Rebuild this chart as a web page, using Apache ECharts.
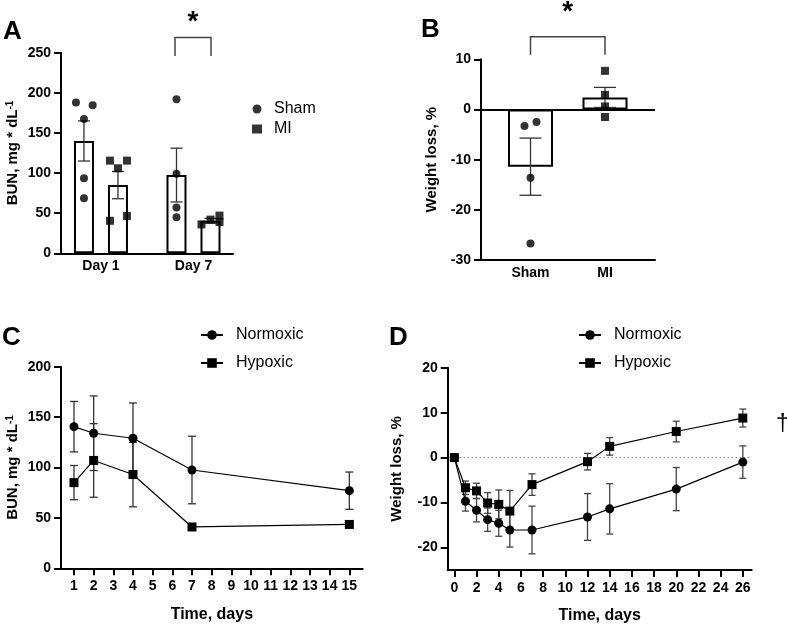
<!DOCTYPE html>
<html><head><meta charset="utf-8">
<script src="https://cdn.jsdelivr.net/npm/echarts@6/dist/echarts.min.js"></script>
<style>html,body{margin:0;padding:0;background:#fff}#c{width:787px;height:627px}</style>
</head><body><div id="c"></div>
<script>
// ---------- Panel A: BUN by group ----------
const bunGroups = ['Day 1', 'Day 7'];
const shamBunMean = [140, 97.5];
const shamBunSem = [25, 33.5];
const miBunMean = [85, 40.5];
const miBunSem = [17, 3];
const shamBunDay1 = [188, 184.5, 167.5, 93.5, 68.5];
const shamBunDay7 = [192, 99, 57, 45];
const miBunDay1 = [115.5, 115.5, 106, 40.5, 46.5];
const miBunDay7 = [36, 42, 47, 39];
const bunTicks = [0, 50, 100, 150, 200, 250];
// ---------- Panel B: weight loss by group ----------
const wlGroups = ['Sham', 'MI'];
const wlMean = [-11.4, 2.4];
const wlSem = [5.7, 2.0];
const shamWl = [-3.3, -2.5, -13.6, -26.7];
const miWl = [7.7, 2.9, 0.6, -1.5];
// ---------- Panel C: BUN over time ----------
const daysC = [1, 2, 4, 7, 15];
const normoxicBun = [140.5, 134, 129, 97.5, 77];
const normoxicBunSem = [25, 37, 35, 33.5, 18.5];
const hypoxicBun = [85, 107, 93, 41, 43.5];
const hypoxicBunSem = [17, 36.5, 32, 2, 2];
const daysCTicks = [1,2,3,4,5,6,7,8,9,10,11,12,13,14,15];
// ---------- Panel D: weight loss over time ----------
const daysD = [0, 1, 2, 3, 4, 5, 7, 12, 14, 20, 26];
const normoxicWt = [0, -9.7, -11.7, -13.8, -14.6, -16.1, -16.1, -13.2, -11.4, -7.0, -1.0];
const normoxicWtSem = [0, 2.2, 2.6, 2.6, 2.9, 3.8, 5.3, 5.2, 5.6, 4.8, 3.6];
const hypoxicWt = [0, -6.7, -7.4, -10.1, -10.4, -11.9, -6.0, -0.9, 2.5, 5.8, 8.8];
const hypoxicWtSem = [0, 1.5, 1.7, 2.3, 3.2, 4.6, 2.4, 1.85, 1.95, 2.3, 2.0];
const daysDTicks = [0,2,4,6,8,10,12,14,16,18,20,22,24,26];
const wtTicksD = [-20, -10, 0, 10, 20];

// ---------- layout / style constants ----------
const FONT = "'Liberation Sans', Arial, Helvetica, sans-serif";
const GROUP_OFF_A = 17;             // px offset of each bar from group centre
const JIT = {                        // px horizontal jitter of dots
  shamD1: [-8, 8.7, 0, 0, 0], miD1: [-8, 9, 0, -8, 9],
  shamD7: [0, 0, 0, 0], miD7: [-9, 0, 9, 9],
  shamB: [-6, 6, 0, 0], miB: [0, 0, 0, 0]
};

const chart = echarts.init(document.getElementById('c'));

function axisBase(extra) {
  return Object.assign({
    axisLine: { onZero: false, lineStyle: { color: '#000', width: 2 } },
    axisTick: { show: true, length: 7, lineStyle: { color: '#000', width: 2 } },
    axisLabel: { color: '#000', fontFamily: FONT, fontWeight: 'bold', fontSize: 14 },
    splitLine: { show: false },
    nameTextStyle: { color: '#000', fontFamily: FONT, fontWeight: 'bold', fontSize: 15 }
  }, extra);
}

function errRender(capHalf, color, pxOff) {
  return function (params, api) {
    const x = api.value(0), lo = api.value(1), hi = api.value(2);
    const off = pxOff ? api.value(3) : 0;
    const p1 = api.coord([x, hi]), p2 = api.coord([x, lo]);
    const cx = p1[0] + off;
    const style = { stroke: color, lineWidth: 1.3 };
    return { type: 'group', children: [
      { type: 'line', shape: { x1: cx, y1: p1[1], x2: cx, y2: p2[1] }, style },
      { type: 'line', shape: { x1: cx - capHalf, y1: p1[1], x2: cx + capHalf, y2: p1[1] }, style },
      { type: 'line', shape: { x1: cx - capHalf, y1: p2[1], x2: cx + capHalf, y2: p2[1] }, style }
    ]};
  };
}

function dots(vals, cat, groupOff, jit) {
  return vals.map((v, i) => ({ value: [cat, v], symbolOffset: [groupOff + jit[i], 0] }));
}

const series = [];
// ---- A bars
series.push({ type: 'bar', name: 'Sham bar', xAxisIndex: 0, yAxisIndex: 0, barWidth: 20, barGap: '70%',
  data: shamBunMean.map((v, i) => [i + 1, v]),
  itemStyle: { color: '#fff', borderColor: '#000', borderWidth: 2 }, z: 2 });
series.push({ type: 'bar', name: 'MI bar', xAxisIndex: 0, yAxisIndex: 0, barWidth: 20, barGap: '70%',
  data: miBunMean.map((v, i) => [i + 1, v]),
  itemStyle: { color: '#fff', borderColor: '#000', borderWidth: 2 }, z: 2 });
series.push({ type: 'custom', name: 'A err', xAxisIndex: 0, yAxisIndex: 0, z: 3,
  renderItem: errRender(6, '#333', true), encode: { x: 0, y: [1, 2] },
  data: [
    ...shamBunMean.map((m, i) => [i + 1, m - shamBunSem[i], m + shamBunSem[i], -GROUP_OFF_A]),
    ...miBunMean.map((m, i) => [i + 1, m - miBunSem[i], m + miBunSem[i], GROUP_OFF_A])
  ] });
series.push({ type: 'scatter', name: 'Sham', xAxisIndex: 0, yAxisIndex: 0, symbol: 'circle', symbolSize: 8, z: 4,
  itemStyle: { color: '#000' },
  data: [...dots(shamBunDay1, 1, -GROUP_OFF_A, JIT.shamD1), ...dots(shamBunDay7, 2, -GROUP_OFF_A, JIT.shamD7)] });
series.push({ type: 'scatter', name: 'MI', xAxisIndex: 0, yAxisIndex: 0, symbol: 'rect', symbolSize: 8, z: 4,
  itemStyle: { color: '#000' },
  data: [...dots(miBunDay1, 1, GROUP_OFF_A, JIT.miD1), ...dots(miBunDay7, 2, GROUP_OFF_A, JIT.miD7)] });

// ---- B bars
series.push({ type: 'bar', name: 'WL bar', xAxisIndex: 1, yAxisIndex: 1, barWidth: 45,
  data: wlMean.map((v, i) => [i + 1, v]),
  itemStyle: { color: '#fff', borderColor: '#000', borderWidth: 2 }, z: 2,
  markLine: { silent: true, symbol: 'none', label: { show: false },
    lineStyle: { color: '#000', width: 2, type: 'solid' }, data: [{ yAxis: 0 }] } });
series.push({ type: 'custom', name: 'B err', xAxisIndex: 1, yAxisIndex: 1, z: 3,
  renderItem: errRender(11, '#333', false), encode: { x: 0, y: [1, 2] },
  data: wlMean.map((m, i) => [i + 1, m - wlSem[i], m + wlSem[i]]) });
series.push({ type: 'scatter', name: 'Sham B', xAxisIndex: 1, yAxisIndex: 1, symbol: 'circle', symbolSize: 8, z: 4,
  itemStyle: { color: '#000' }, data: dots(shamWl, 1, 0, JIT.shamB) });
series.push({ type: 'scatter', name: 'MI B', xAxisIndex: 1, yAxisIndex: 1, symbol: 'rect', symbolSize: 8, z: 4,
  itemStyle: { color: '#000' }, data: dots(miWl, 2, 0, JIT.miB) });

// ---- C lines
series.push({ type: 'custom', name: 'C err', xAxisIndex: 2, yAxisIndex: 2, z: 1,
  renderItem: errRender(4, '#333', false), encode: { x: 0, y: [1, 2] },
  data: [
    ...daysC.map((d, i) => [d, normoxicBun[i] - normoxicBunSem[i], normoxicBun[i] + normoxicBunSem[i]]),
    ...daysC.map((d, i) => [d, hypoxicBun[i] - hypoxicBunSem[i], hypoxicBun[i] + hypoxicBunSem[i]])
  ] });
series.push({ type: 'line', name: 'Normoxic', xAxisIndex: 2, yAxisIndex: 2, symbol: 'circle', symbolSize: 9, z: 3,
  color: '#000', lineStyle: { color: '#000', width: 1.2 }, itemStyle: { color: '#000' },
  data: daysC.map((d, i) => [d, normoxicBun[i]]) });
series.push({ type: 'line', name: 'Hypoxic', xAxisIndex: 2, yAxisIndex: 2, symbol: 'rect', symbolSize: 9, z: 3,
  color: '#000', lineStyle: { color: '#000', width: 1.2 }, itemStyle: { color: '#000' },
  data: daysC.map((d, i) => [d, hypoxicBun[i]]) });

// ---- D lines
series.push({ type: 'custom', name: 'D err', xAxisIndex: 3, yAxisIndex: 3, z: 1,
  renderItem: errRender(3.5, '#444', false), encode: { x: 0, y: [1, 2] },
  data: [
    ...daysD.map((d, i) => [d, normoxicWt[i] - normoxicWtSem[i], normoxicWt[i] + normoxicWtSem[i]]),
    ...daysD.map((d, i) => [d, hypoxicWt[i] - hypoxicWtSem[i], hypoxicWt[i] + hypoxicWtSem[i]])
  ] });
series.push({ type: 'line', name: 'Normoxic', xAxisIndex: 3, yAxisIndex: 3, symbol: 'circle', symbolSize: 9, z: 3,
  color: '#000', lineStyle: { color: '#000', width: 1.2 }, itemStyle: { color: '#000' },
  data: daysD.map((d, i) => [d, normoxicWt[i]]),
  markLine: { silent: true, symbol: 'none', label: { show: false }, z: 0,
    lineStyle: { color: '#555', width: 1, type: [1, 3] }, data: [{ yAxis: 0 }] } });
series.push({ type: 'line', name: 'Hypoxic', xAxisIndex: 3, yAxisIndex: 3, symbol: 'rect', symbolSize: 9, z: 4,
  color: '#000', lineStyle: { color: '#000', width: 1.2 }, itemStyle: { color: '#000' },
  data: daysD.map((d, i) => [d, hypoxicWt[i]]) });

const legendText = { color: '#000', fontFamily: FONT, fontSize: 16, padding: [0, 0, 0, 7] };

const option = {
  backgroundColor: '#fff',
  animation: false,
  textStyle: { fontFamily: FONT },
  grid: [
    { left: 61, top: 52.7, width: 172, height: 200.6, outerBoundsMode: 'none', containLabel: false },
    { left: 481, top: 59.3, width: 174, height: 200.7, outerBoundsMode: 'none', containLabel: false },
    { left: 61, top: 366.7, width: 301.7, height: 201.6, outerBoundsMode: 'none', containLabel: false },
    { left: 447.7, top: 367.7, width: 304, height: 202.3, outerBoundsMode: 'none', containLabel: false }
  ],
  xAxis: [
    axisBase({ type: 'value', gridIndex: 0, min: 0.568, max: 2.427,
      axisTick: { show: false },
      axisLabel: { color: '#000', fontFamily: FONT, fontWeight: 'bold', fontSize: 14, margin: 6,
        customValues: [1, 2], formatter: v => bunGroups[Math.round(v) - 1] } }),
    axisBase({ type: 'value', gridIndex: 1, min: 0.3356, max: 2.671,
      axisTick: { show: false },
      axisLabel: { color: '#000', fontFamily: FONT, fontWeight: 'bold', fontSize: 14, margin: 6,
        customValues: [1, 2], formatter: v => wlGroups[Math.round(v) - 1] } }),
    axisBase({ type: 'value', gridIndex: 2, min: 0.34, max: 15.68,
      axisTick: { show: true, length: 7, lineStyle: { color: '#000', width: 2 }, customValues: daysCTicks },
      axisLabel: { color: '#000', fontFamily: FONT, fontWeight: 'bold', fontSize: 14, margin: 11,
        customValues: daysCTicks },
      name: 'Time, days', nameLocation: 'middle', nameGap: 38,
      nameTextStyle: { color: '#000', fontFamily: FONT, fontWeight: 'bold', fontSize: 16 } }),
    axisBase({ type: 'value', gridIndex: 3, min: -0.6, max: 26.8,
      axisTick: { show: true, length: 7, lineStyle: { color: '#000', width: 2 }, customValues: daysDTicks },
      axisLabel: { color: '#000', fontFamily: FONT, fontWeight: 'bold', fontSize: 14, margin: 11,
        customValues: daysDTicks },
      name: 'Time, days', nameLocation: 'middle', nameGap: 38,
      nameTextStyle: { color: '#000', fontFamily: FONT, fontWeight: 'bold', fontSize: 16 } })
  ],
  yAxis: [
    axisBase({ type: 'value', gridIndex: 0, min: 0, max: 250, interval: 50,
      axisLabel: { color: '#000', fontFamily: FONT, fontWeight: 'bold', fontSize: 14, margin: 10 },
      name: '{a|BUN, mg * dL}{b|-1}', nameLocation: 'middle', nameGap: 40, nameRotate: 90,
      nameTextStyle: { rich: {
        a: { color: '#000', fontFamily: FONT, fontWeight: 'bold', fontSize: 15 },
        b: { color: '#000', fontFamily: FONT, fontWeight: 'bold', fontSize: 10, verticalAlign: 'top', padding: [0, 0, 6, 0] } } } }),
    axisBase({ type: 'value', gridIndex: 1, min: -30, max: 10, interval: 10,
      axisLabel: { color: '#000', fontFamily: FONT, fontWeight: 'bold', fontSize: 14, margin: 10 },
      name: 'Weight loss, %', nameLocation: 'middle', nameGap: 42, nameRotate: 90 }),
    axisBase({ type: 'value', gridIndex: 2, min: 0, max: 200, interval: 50,
      axisLabel: { color: '#000', fontFamily: FONT, fontWeight: 'bold', fontSize: 14, margin: 10 },
      name: '{a|BUN, mg * dL}{b|-1}', nameLocation: 'middle', nameGap: 40, nameRotate: 90,
      nameTextStyle: { rich: {
        a: { color: '#000', fontFamily: FONT, fontWeight: 'bold', fontSize: 15 },
        b: { color: '#000', fontFamily: FONT, fontWeight: 'bold', fontSize: 10, verticalAlign: 'top', padding: [0, 0, 6, 0] } } } }),
    axisBase({ type: 'value', gridIndex: 3, min: -25, max: 20,
      axisTick: { show: true, length: 7, lineStyle: { color: '#000', width: 2 }, customValues: wtTicksD },
      axisLabel: { color: '#000', fontFamily: FONT, fontWeight: 'bold', fontSize: 14, margin: 10, customValues: wtTicksD },
      name: 'Weight loss, %', nameLocation: 'middle', nameGap: 43, nameRotate: 90 })
  ],
  legend: [
    { orient: 'vertical', left: 247, top: 96, itemWidth: 10, itemHeight: 9, itemGap: 4,
      data: [{ name: 'Sham', icon: 'circle' }, { name: 'MI', icon: 'rect' }],
      textStyle: legendText, selectedMode: false },
    { orient: 'vertical', left: 195, top: 322, itemWidth: 22, itemHeight: 12, itemGap: 12,
      data: ['Normoxic', 'Hypoxic'], textStyle: Object.assign({}, legendText, { padding: [0, 0, 0, 8] }), selectedMode: false },
    { orient: 'vertical', left: 573, top: 322, itemWidth: 22, itemHeight: 12, itemGap: 12,
      data: ['Normoxic', 'Hypoxic'], textStyle: Object.assign({}, legendText, { padding: [0, 0, 0, 8] }), selectedMode: false }
  ],
  series: series
};
chart.setOption(option);

// ---------- annotations: panel letters, significance brackets, dagger ----------
function px(grid, pt) { return chart.convertToPixel({ gridIndex: grid }, pt); }
const aL = px(0, [2, 269]), aLb = px(0, [2, 246]), aR = px(0, [2, 269]);
const aX1 = aL[0] - GROUP_OFF_A - 1.5, aX2 = aR[0] + GROUP_OFF_A + 0.5;
const bT = px(1, [1, 14.5]), bB = px(1, [1, 10.9]), bR = px(1, [2, 14.5]);
const bX1 = bT[0], bX2 = bR[0];
const letter = (t, x, y) => ({ type: 'text', x, y, style: { text: t, fill: '#000', font: "bold 26px " + FONT, textVerticalAlign: 'middle' } });
chart.setOption({ graphic: [
  letter('A', 3, 32), letter('B', 421, 30), letter('C', 2, 338), letter('D', 389, 338),
  { type: 'polyline', shape: { points: [[aX1, aLb[1]], [aX1, aL[1]], [aX2, aL[1]], [aX2, aLb[1]]] },
    style: { stroke: '#444', lineWidth: 1.5, fill: null } },
  { type: 'polyline', shape: { points: [[bX1, bB[1]], [bX1, bT[1]], [bX2, bT[1]], [bX2, bB[1]]] },
    style: { stroke: '#444', lineWidth: 1.5, fill: null } },
  { type: 'text', x: (aX1 + aX2) / 2 - 0, y: 22, style: { text: '*', fill: '#000', font: "bold 28px " + FONT, textAlign: 'center', textVerticalAlign: 'middle' } },
  { type: 'text', x: (bX1 + bX2) / 2, y: 12, style: { text: '*', fill: '#000', font: "bold 28px " + FONT, textAlign: 'center', textVerticalAlign: 'middle' } },
  { type: 'text', x: 776, y: 423, style: { text: '†', fill: '#000', font: "24px " + FONT, textVerticalAlign: 'middle' } }
]});
</script>
</body></html>
